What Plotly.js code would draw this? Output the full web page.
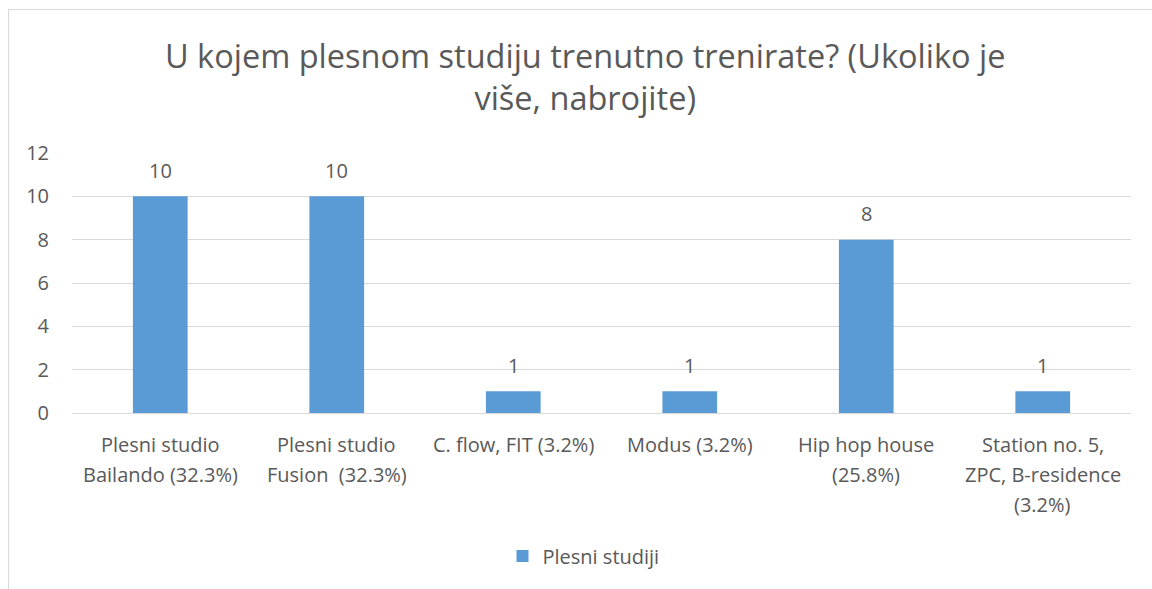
<!DOCTYPE html>
<html>
<head>
<meta charset="utf-8">
<script src="https://cdn.plot.ly/plotly-3.0.1.min.js"></script>
<style>
html,body{margin:0;padding:0;background:#fff;}
#frame{position:absolute;left:8px;top:9px;width:1144px;height:580px;border-left:1px solid #d9d9d9;border-top:1px solid #d9d9d9;}
#chart{position:absolute;left:0;top:0;width:1152px;height:589px;}
</style>
</head>
<body>
<div id="frame"></div>
<div id="chart"></div>
<script>
const categories = [
  "Plesni studio\nBailando (32.3%)",
  "Plesni studio\nFusion \u00a0(32.3%)",
  "C. flow, FIT (3.2%)",
  "Modus (3.2%)",
  "Hip hop house\n(25.8%)",
  "Station no. 5,\nZPC, B-residence\n(3.2%)"
];
const values = [10, 10, 1, 1, 8, 1];
const seriesName = "Plesni studiji";
const chartTitle = "U kojem plesnom studiju trenutno trenirate? (Ukoliko je<br>više, nabrojite)";
const yTicks = [0, 2, 4, 6, 8, 10, 12];

const FONT = "Open Sans, sans-serif";
const TXT = "#595959";
const FS = 20;

const keys = categories.map((c, i) => "c" + i);

const annotations = [];
// data labels
values.forEach((v, i) => {
  annotations.push({
    x: keys[i], y: v, xref: "x", yref: "y",
    text: String(v), showarrow: false,
    yanchor: "middle", yshift: 26,
    font: {family: FONT, size: FS, color: TXT}
  });
});
// category labels, one annotation per line
categories.forEach((c, i) => {
  c.split("\n").forEach((line, j) => {
    annotations.push({
      x: keys[i], y: 0, xref: "x", yref: "paper",
      text: line, showarrow: false,
      yanchor: "middle", yshift: -(31 + 30 * j),
      font: {family: FONT, size: FS, color: TXT}
    });
  });
});

const data = [{
  type: "bar",
  x: keys,
  y: values,
  name: seriesName,
  marker: {color: "#5B9BD5"},
  showlegend: true,
  hoverinfo: "y"
}];

const layout = {
  width: 1152, height: 589,
  paper_bgcolor: "rgba(0,0,0,0)",
  plot_bgcolor: "rgba(0,0,0,0)",
  margin: {l: 72, r: 21, t: 153, b: 176, pad: 0},
  title: {
    text: chartTitle,
    x: 0.508, xref: "container", xanchor: "center",
    y: 1 - 68/589, yref: "container", yanchor: "top",
    font: {family: FONT, size: 32.5, color: TXT}
  },
  bargap: 0.69,
  xaxis: {
    type: "category",
    showticklabels: false,
    showgrid: false, zeroline: false, showline: false, ticks: ""
  },
  yaxis: {
    range: [0, 12],
    tickvals: yTicks,
    ticktext: yTicks.map(String),
    showgrid: true, gridcolor: "#d9d9d9", gridwidth: 1,
    zeroline: true, zerolinecolor: "#d9d9d9", zerolinewidth: 1,
    showline: false, ticks: "",
    ticklabelstandoff: 22,
    tickfont: {family: FONT, size: FS, color: TXT}
  },
  legend: {
    orientation: "h",
    x: 0.483, xanchor: "center",
    y: -0.55, yanchor: "middle",
    itemwidth: 30,
    font: {family: FONT, size: FS, color: TXT},
    bgcolor: "rgba(0,0,0,0)"
  },
  annotations: annotations
};

Plotly.newPlot("chart", data, layout, {displayModeBar: false, staticPlot: true});
</script>
</body>
</html>
